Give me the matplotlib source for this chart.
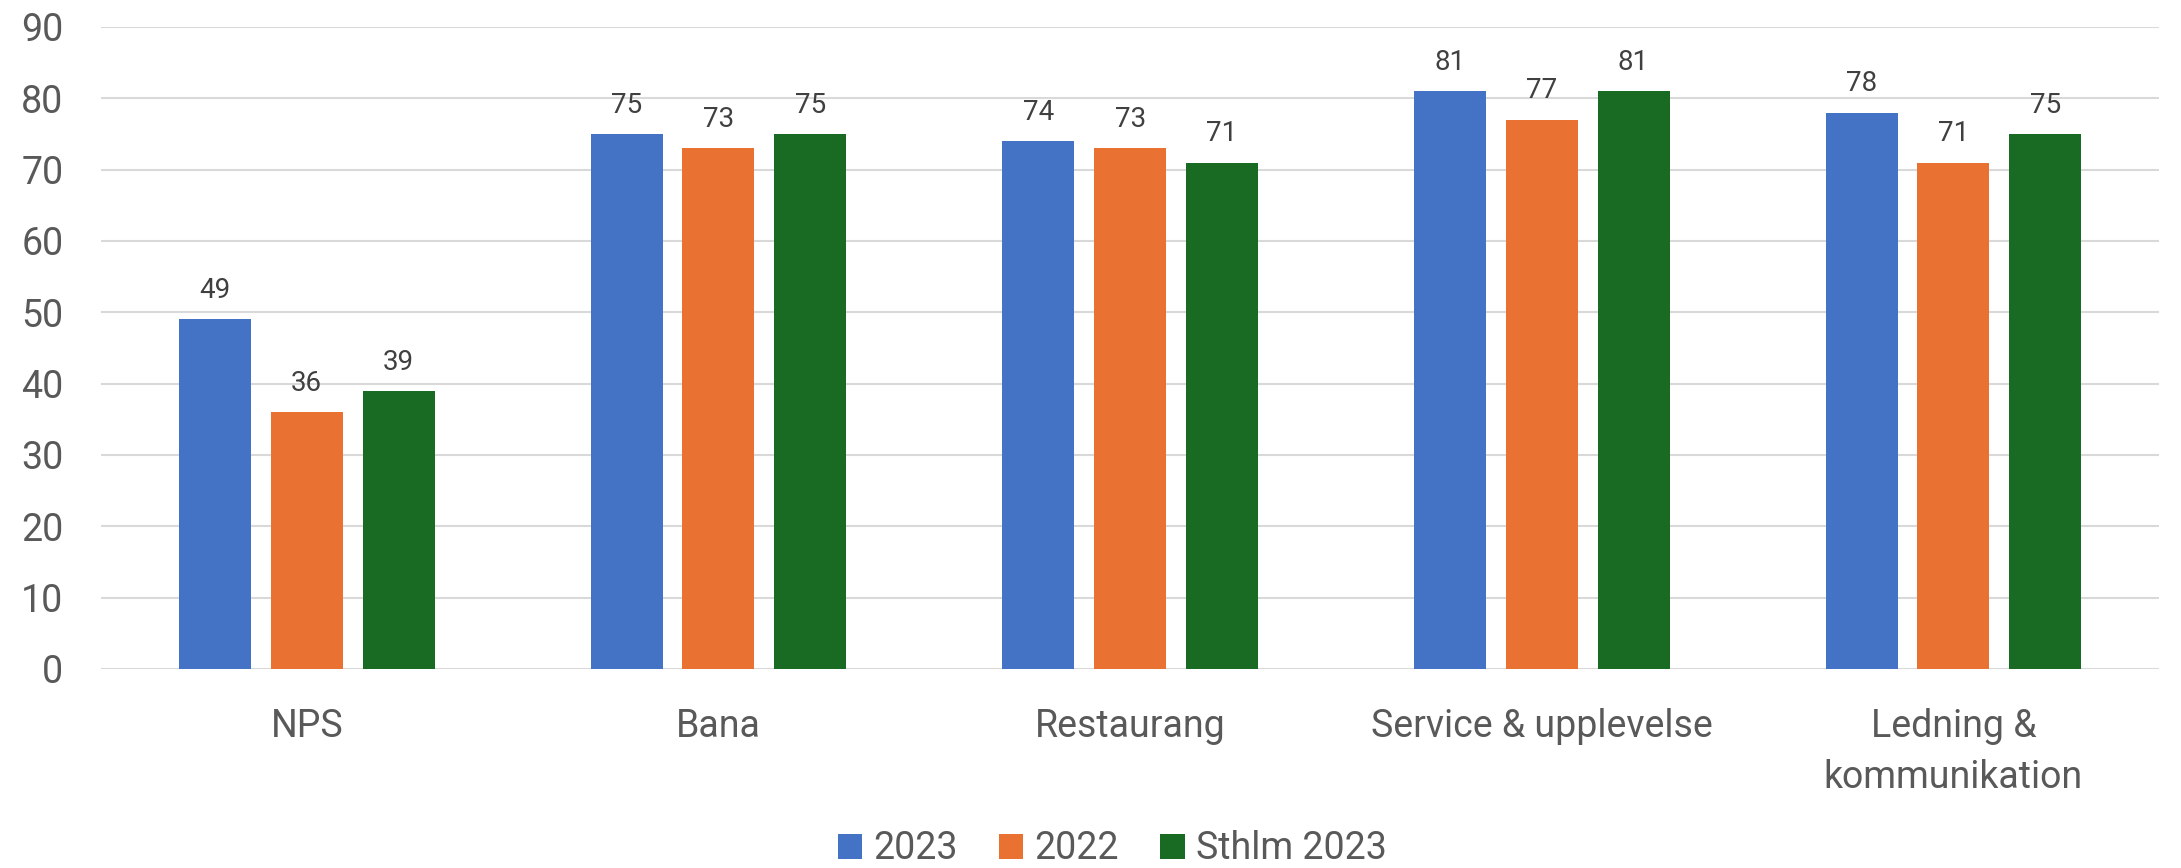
import numpy as np
import matplotlib
matplotlib.use("Agg")
import matplotlib.pyplot as plt

plt.rcParams['font.family'] = ['Roboto', 'DejaVu Sans']

# Data
kategorier = ['NPS', 'Bana', 'Restaurang', 'Service & upplevelse', 'Ledning &\nkommunikation']
serier = ['2023', '2022', 'Sthlm 2023']
v2023 = [49, 75, 74, 81, 78]
v2022 = [36, 73, 73, 77, 71]
sthlm2023 = [39, 75, 71, 81, 75]
yticks = [0, 10, 20, 30, 40, 50, 60, 70, 80, 90]

farger = ['#4472C4', '#E97132', '#196B24']
textfarg = '#595959'
gridfarg = '#D9D9D9'

fig = plt.figure(figsize=(21.81, 8.68), dpi=100)
ax = fig.add_axes([0.0463, 0.2293, 0.9437, 0.7396])

x = np.arange(len(kategorier))
bredd = 0.175
steg = 0.223

for i, (namn, varden) in enumerate(zip(serier, [v2023, v2022, sthlm2023])):
    pos = x + (i - 1) * steg
    ax.bar(pos, varden, width=bredd, color=farger[i], label=namn, zorder=3)
    for p, v in zip(pos, varden):
        ax.annotate(str(v), (p, v), xytext=(0, 11), textcoords='offset points',
                    ha='center', va='bottom', fontsize=20, color='#404040', zorder=4)

ax.set_xlim(-0.5, len(kategorier) - 0.5)
ax.set_ylim(0, 90)
ax.set_yticks(yticks)
ax.set_xticks(x)
ax.set_xticklabels(kategorier, fontsize=27, color=textfarg, linespacing=1.5)
ax.tick_params(axis='y', labelsize=27, labelcolor=textfarg, length=0, pad=27)
ax.tick_params(axis='x', length=0, pad=28)
ax.grid(axis='y', color=gridfarg, linewidth=1.5, zorder=0)
for s in ax.spines.values():
    s.set_visible(False)

leg = fig.legend(loc='center', bbox_to_anchor=(0.51, 0.022), ncol=3, frameon=False,
                 fontsize=27, handlelength=0.65, handleheight=0.65,
                 handletextpad=0.3, columnspacing=1.1)
for t in leg.get_texts():
    t.set_color(textfarg)

fig.savefig('out.png', dpi=100)
